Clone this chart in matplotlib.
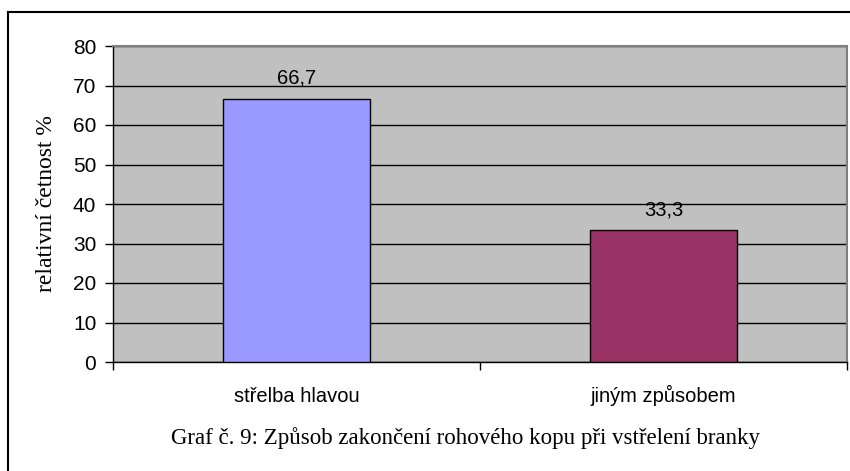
import matplotlib.pyplot as plt
from matplotlib.lines import Line2D

categories = ['střelba hlavou', 'jiným způsobem']
values = [66.7, 33.3]
bar_colors = ['#9999FF', '#993366']
value_labels = ['66,7', '33,3']

fig = plt.figure(figsize=(8.5, 4.71), dpi=100)
ax = fig.add_axes([113 / 850, 1 - 362 / 471, 734 / 850, 316 / 471])

ax.set_facecolor('#C0C0C0')
ax.set_xlim(0, 2)
ax.set_ylim(0, 80)
ax.set_yticks(range(0, 81, 10))
ax.grid(axis='y', color='black', linewidth=1)
ax.set_axisbelow(True)

x = [0.5, 1.5]
ax.bar(x, values, width=0.4, color=bar_colors, edgecolor='black', linewidth=1, zorder=3)
for xi, v, lab in zip(x, values, value_labels):
    ax.annotate(lab, (xi, v), xytext=(0, 14.5), textcoords='offset points',
                ha='center', va='center', fontsize=14.5, family='Liberation Sans')

# category ticks sit on the boundaries, names in the middle
ax.set_xticks([0, 1, 2])
ax.set_xticklabels([])
ax.set_xticks(x, minor=True)
ax.set_xticklabels(categories, minor=True, fontsize=14.5, family='Liberation Sans',
                   va='baseline')
ax.tick_params(axis='x', which='minor', length=0, pad=29)
ax.tick_params(axis='x', which='major', length=6, width=1)
ax.tick_params(axis='y', length=6, width=1, labelsize=15, pad=6)
for t in ax.get_yticklabels():
    t.set_family('Liberation Sans')

for s in ['top', 'right']:
    ax.spines[s].set_color('#808080')
    ax.spines[s].set_linewidth(1.5)
for s in ['left', 'bottom']:
    ax.spines[s].set_color('black')
    ax.spines[s].set_linewidth(1)

ax.set_ylabel('relativní četnost %', family='Liberation Serif', fontsize=17)
ax.yaxis.set_label_coords((57 - 113) / 734, 0.5)

fig.text(465 / 850, 1 - 438 / 471,
         'Graf č. 9: Způsob zakončení rohového kopu při vstřelení branky',
         ha='center', va='center', family='Liberation Serif', fontsize=16.5)

# frame around the whole chart
fig.add_artist(Line2D([7.5 / 850, 7.5 / 850], [0, 1 - 12 / 471], color='black', lw=1.5))
fig.add_artist(Line2D([7.5 / 850, 1], [1 - 12 / 471, 1 - 12 / 471], color='black', lw=1.5))

fig.savefig('out.png', dpi=100)
